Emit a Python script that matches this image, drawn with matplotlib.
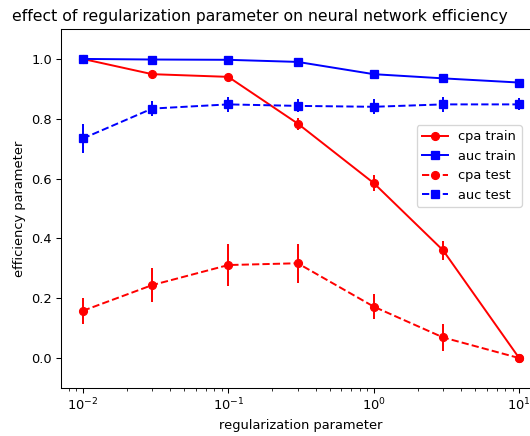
import matplotlib
matplotlib.use("Agg")
import matplotlib.pyplot as plt

reg = [0.01, 0.03, 0.1, 0.3, 1, 3, 10]

cpa_train = [1.0, 0.949, 0.940, 0.784, 0.585, 0.360, 0.0]
cpa_train_err = [0.0, 0.005, 0.008, 0.020, 0.026, 0.032, 0.0]
auc_train = [1.0, 0.998, 0.997, 0.990, 0.949, 0.935, 0.921]
auc_train_err = [0.0, 0.002, 0.002, 0.004, 0.005, 0.004, 0.004]
cpa_test = [0.158, 0.244, 0.311, 0.317, 0.172, 0.069, 0.0]
cpa_test_err = [0.043, 0.057, 0.071, 0.065, 0.042, 0.046, 0.0]
auc_test = [0.734, 0.834, 0.848, 0.843, 0.840, 0.848, 0.848]
auc_test_err = [0.050, 0.025, 0.026, 0.022, 0.025, 0.025, 0.020]

dpi = 94
fig = plt.figure(figsize=(530 / dpi, 436 / dpi), dpi=dpi)
ax = fig.add_axes([61 / 530, 48 / 436, 480 / 530, 359 / 436])

series = [
    (cpa_train, cpa_train_err, 'r', 'o', '-', 'cpa train'),
    (auc_train, auc_train_err, 'b', 's', '-', 'auc train'),
    (cpa_test, cpa_test_err, 'r', 'o', '--', 'cpa test'),
    (auc_test, auc_test_err, 'b', 's', '--', 'auc test'),
]
for vals, errs, col, mk, ls, lab in series:
    ax.plot(reg, vals, color=col, marker=mk, linestyle=ls, label=lab)
    ax.errorbar(reg, vals, yerr=errs, fmt='none', ecolor=col)

ax.set_xscale('log')
ax.set_ylim(-0.1, 1.1)
ax.set_xlabel('regularization parameter')
ax.set_ylabel('efficiency parameter')
ax.set_title('effect of regularization parameter on neural network efficiency',
             x=(260 - 61) / 480)

ax.legend(loc='upper right', bbox_to_anchor=(521.5 / 530, 1 - 125 / 436),
          bbox_transform=fig.transFigure, borderaxespad=0)

fig.savefig('out.png', dpi=dpi)
